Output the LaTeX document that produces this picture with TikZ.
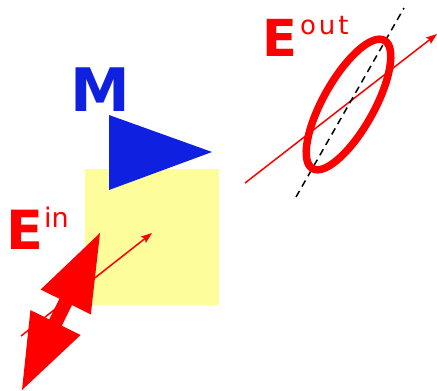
\documentclass[tikz,border=0pt]{standalone}
\usepackage{fontspec}
\setmainfont{DejaVu Sans}
\usetikzlibrary{arrows.meta}
\definecolor{myred}{RGB}{255,0,0}
\definecolor{myblue}{RGB}{16,32,224}
\definecolor{myyellow}{RGB}{253,253,155}
\begin{document}
\begin{tikzpicture}[x=1pt,y=-1pt,
  thinarrow/.style={draw=myred, line width=1.5pt, -{Stealth[length=11pt,width=8pt,inset=2pt]}},
  lbl/.style={inner sep=0pt, anchor=base west, text=myred},
  biglbl/.style={lbl, font=\bfseries\fontsize{54}{54}\selectfont},
  suplbl/.style={lbl, font=\fontsize{27}{27}\selectfont}]
\useasboundingbox (0,0) rectangle (437,391);
% sample
\fill[myyellow] (85,169) rectangle (219,305);
% mirror
\fill[myblue] (109,115) -- (212,152) -- (109,190) -- cycle;
\node[inner sep=0pt, anchor=base west, text=myblue, font=\bfseries\fontsize{60}{60}\selectfont] (M) at (70,111) {M};
% incoming beam
\coordinate (ins) at (21,336);
\coordinate (ine) at (152,233);
\draw[thinarrow] (ins) -- (ine);
% incoming polarisation double arrow
\fill[myred] (100,233) -- (90.81,314.42) -- (72.0,305.1) -- (61.8,325.7) -- (80.58,335.02)
  -- (22,390) -- (30.42,310.10) -- (49.2,319.4) -- (59.4,298.8) -- (40.65,289.50) -- cycle;
\node[biglbl] (Ein) at (6,249) {E};
\node[suplbl] (in) at (44,227) {in};
% outgoing beam
\coordinate (outs) at (245,183);
\coordinate (oute) at (437,34);
\draw[thinarrow] (outs) -- (oute);
\coordinate (d1) at (296,197);
\coordinate (d2) at (404,8);
\draw[black, line width=1.5pt, dash pattern=on 7pt off 5pt] (d1) -- (d2);
\draw[myred, line width=7.5pt, shift={(348.5,104.5)}, rotate=60.7] (0,0) ellipse [x radius=73.5pt, y radius=25.5pt];
\node[lbl, font=\bfseries\fontsize{51}{51}\selectfont] (Eout) at (262,56) {E};
\node[suplbl, font=\fontsize{26}{26}\selectfont\addfontfeatures{LetterSpace=11}] (out) at (300,34) {out};
\end{tikzpicture}
\end{document}
